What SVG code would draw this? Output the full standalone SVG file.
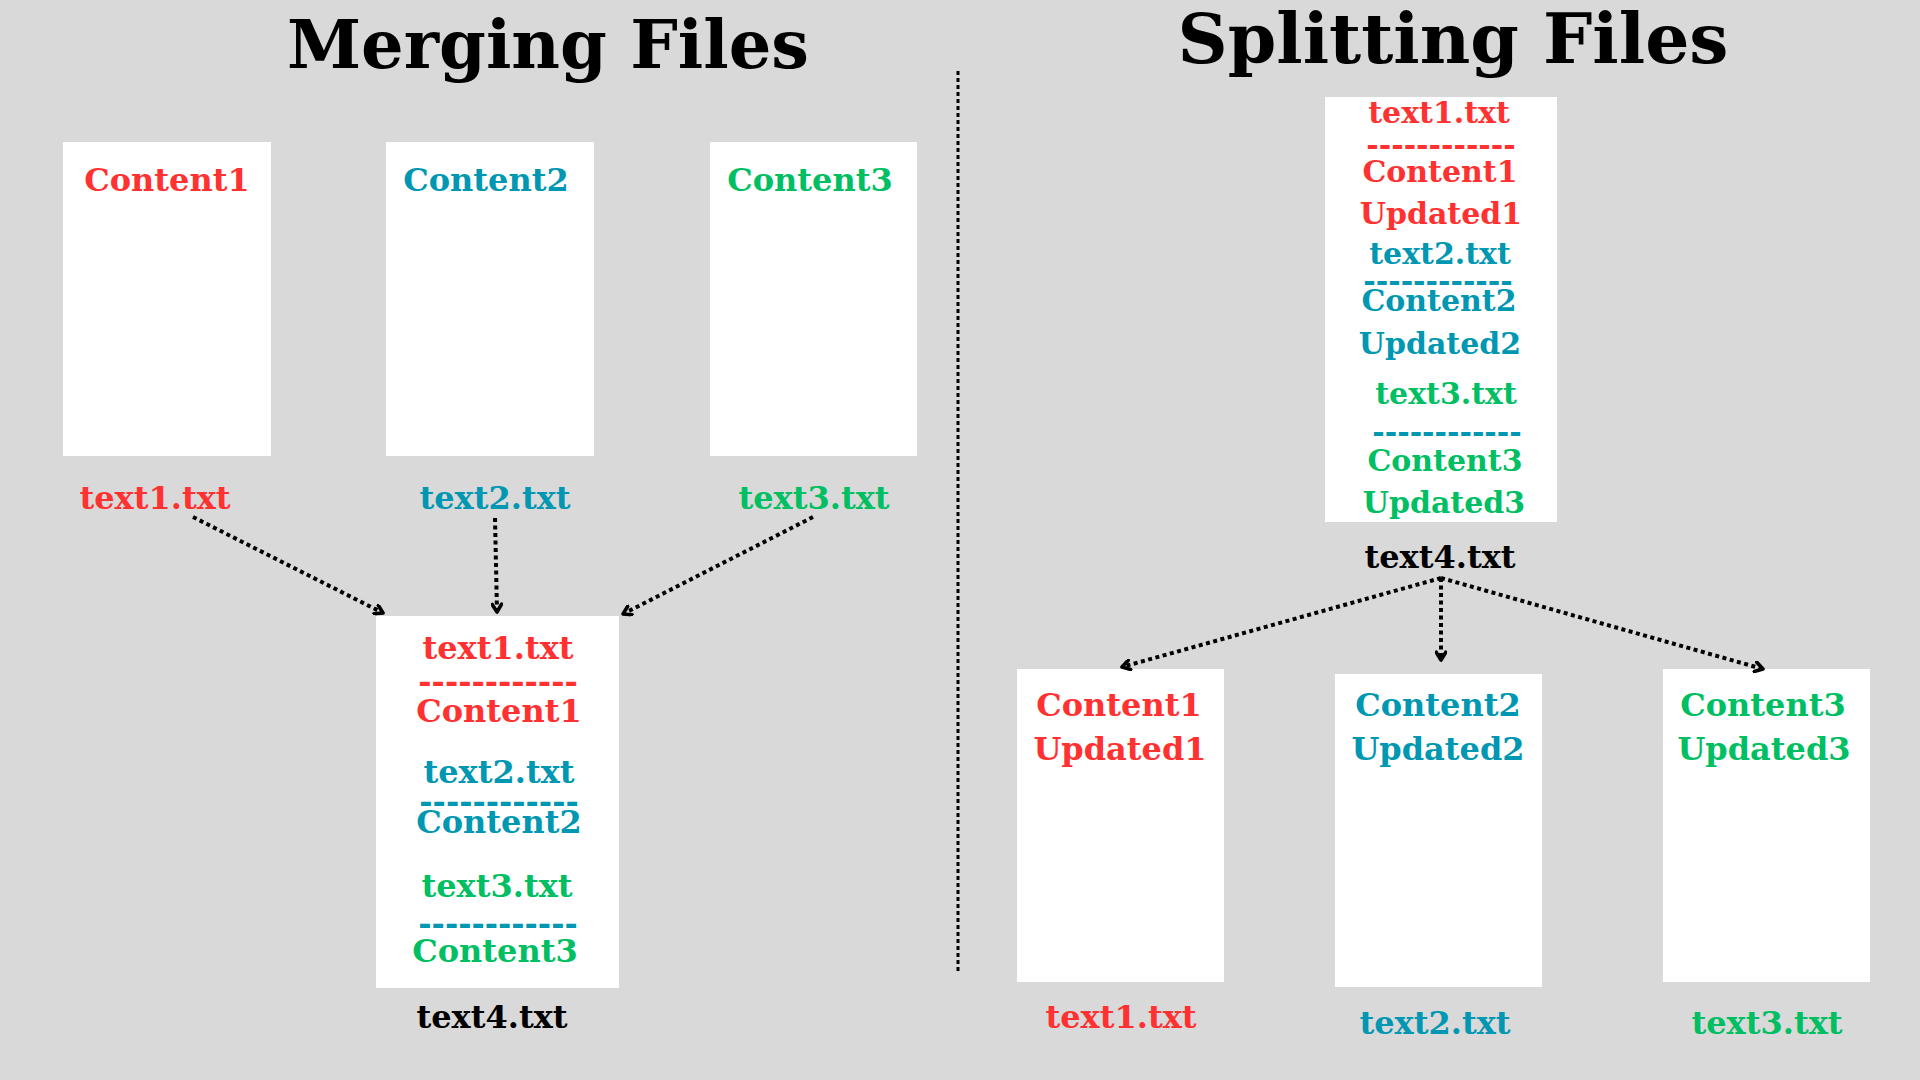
<svg xmlns="http://www.w3.org/2000/svg" width="1920" height="1080" viewBox="0 0 1920 1080">
  <defs>
    <style>
      text { font-family: "DejaVu Serif", "Liberation Serif", serif; font-weight: bold; text-anchor: middle; }
      .title1 { font-size: 67px; fill: #000000; }
      .title2 { font-size: 69.5px; fill: #000000; }
      .t { font-size: 32px; }
      .ts { font-size: 30px; }
      .red { fill: #FF3131; }
      .teal { fill: #0097B2; }
      .green { fill: #00BF63; }
      .blk { fill: #000000; }
      .box { fill: #FFFFFF; }
      .conn { stroke: #000000; stroke-width: 4; stroke-dasharray: 4 3.5; fill: none; }
      .sep { stroke: #000000; stroke-width: 3; stroke-dasharray: 4 3; fill: none; }
    </style>
    <marker id="arrow" viewBox="0 0 10 10" refX="8" refY="5" markerWidth="12" markerHeight="12" markerUnits="userSpaceOnUse" orient="auto">
      <path d="M1.5,1 L8,5 L1.5,9" fill="none" stroke="#000000" stroke-width="3" stroke-linecap="round" stroke-linejoin="round"/>
    </marker>
  </defs>

  <rect x="0" y="0" width="1920" height="1080" fill="#D9D9D9"/>

  <text class="title1" x="548" y="68">Merging Files</text>
  <text class="title2" x="1453" y="63">Splitting Files</text>

  <line class="sep" x1="958" y1="71" x2="958" y2="971"/>

  <!-- Merging side -->
  <g id="m-file1">
    <rect class="box" x="63" y="142" width="208" height="314"/>
    <text class="t red" x="167" y="191">Content1</text>
    <text class="t red" x="155" y="509">text1.txt</text>
  </g>
  <g id="m-file2">
    <rect class="box" x="386" y="142" width="208" height="314"/>
    <text class="t teal" x="486" y="191">Content2</text>
    <text class="t teal" x="495" y="509">text2.txt</text>
  </g>
  <g id="m-file3">
    <rect class="box" x="710" y="142" width="207" height="314"/>
    <text class="t green" x="810" y="191">Content3</text>
    <text class="t green" x="814" y="509">text3.txt</text>
  </g>
  <g id="m-file4">
    <rect class="box" x="376" y="616" width="243" height="372"/>
    <text class="t red" x="498" y="659">text1.txt</text>
    <text class="t red" x="498" y="692">------------</text>
    <text class="t red" x="499" y="722">Content1</text>
    <text class="t teal" x="499" y="783">text2.txt</text>
    <text class="t teal" x="499" y="812">------------</text>
    <text class="t teal" x="499" y="833">Content2</text>
    <text class="t green" x="497" y="897">text3.txt</text>
    <text class="t teal" x="498" y="934">------------</text>
    <text class="t green" x="495" y="962">Content3</text>
    <text class="t blk" x="492" y="1028">text4.txt</text>
  </g>

  <!-- Splitting side -->
  <g id="s-file4">
    <rect class="box" x="1325" y="97" width="232" height="425"/>
    <text class="ts red" x="1439" y="123">text1.txt</text>
    <text class="ts red" x="1441" y="155">------------</text>
    <text class="ts red" x="1440" y="182">Content1</text>
    <text class="ts red" x="1441" y="224">Updated1</text>
    <text class="ts teal" x="1440" y="264">text2.txt</text>
    <text class="ts teal" x="1438" y="291">------------</text>
    <text class="ts teal" x="1439" y="311">Content2</text>
    <text class="ts teal" x="1440" y="354">Updated2</text>
    <text class="ts green" x="1446" y="404">text3.txt</text>
    <text class="ts teal" x="1447" y="442">------------</text>
    <text class="ts green" x="1445" y="471">Content3</text>
    <text class="ts green" x="1444" y="513">Updated3</text>
    <text class="t blk" x="1440" y="568">text4.txt</text>
  </g>
  <g id="s-file1">
    <rect class="box" x="1017" y="669" width="207" height="313"/>
    <text class="t red" x="1119" y="716">Content1</text>
    <text class="t red" x="1120" y="760">Updated1</text>
    <text class="t red" x="1121" y="1028">text1.txt</text>
  </g>
  <g id="s-file2">
    <rect class="box" x="1335" y="674" width="207" height="313"/>
    <text class="t teal" x="1438" y="716">Content2</text>
    <text class="t teal" x="1438" y="760">Updated2</text>
    <text class="t teal" x="1435" y="1034">text2.txt</text>
  </g>
  <g id="s-file3">
    <rect class="box" x="1663" y="669" width="207" height="313"/>
    <text class="t green" x="1763" y="716">Content3</text>
    <text class="t green" x="1764" y="760">Updated3</text>
    <text class="t green" x="1767" y="1034">text3.txt</text>
  </g>

  <g id="connectors">
    <line class="conn" x1="193" y1="517" x2="383" y2="613" marker-end="url(#arrow)"/>
    <line class="conn" x1="495" y1="518" x2="497" y2="612" marker-end="url(#arrow)"/>
    <line class="conn" x1="813" y1="517" x2="623" y2="614" marker-end="url(#arrow)"/>
    <line class="conn" x1="1441" y1="578" x2="1122" y2="667" marker-end="url(#arrow)"/>
    <line class="conn" x1="1441" y1="578" x2="1441" y2="660" marker-end="url(#arrow)"/>
    <line class="conn" x1="1441" y1="578" x2="1763" y2="669" marker-end="url(#arrow)"/>
  </g>
</svg>
